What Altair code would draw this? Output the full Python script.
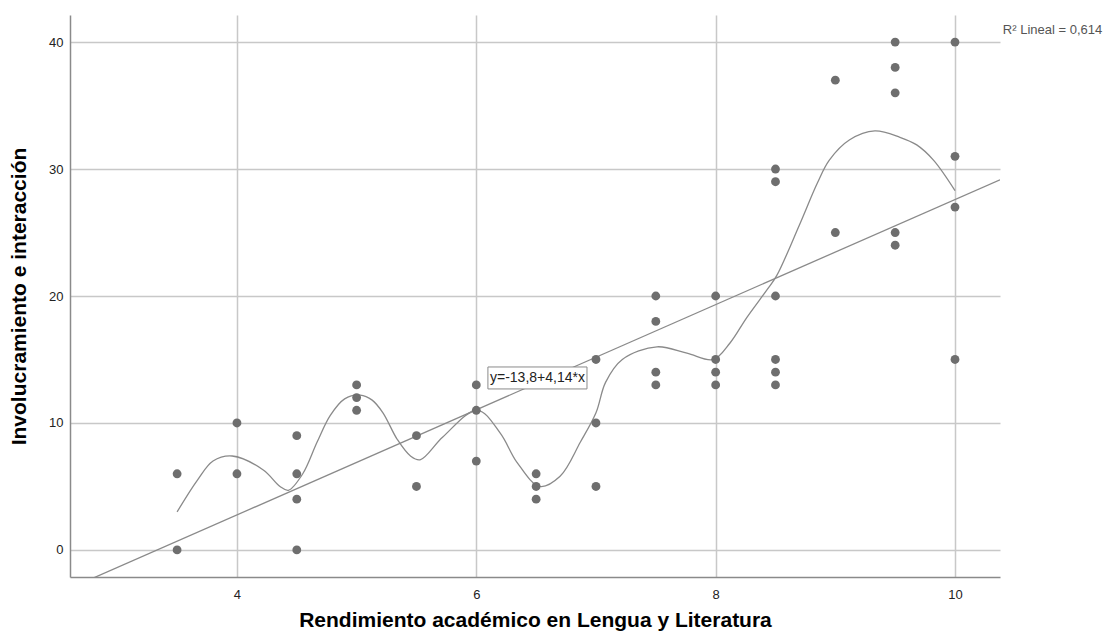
import altair as alt
import pandas as pd

# ---- data ----
pts_x = [3.5, 3.5,
         4, 4,
         4.5, 4.5, 4.5, 4.5,
         5, 5, 5,
         5.5, 5.5,
         6, 6, 6,
         6.5, 6.5, 6.5,
         7, 7, 7,
         7.5, 7.5, 7.5, 7.5,
         8, 8, 8, 8,
         8.5, 8.5, 8.5, 8.5, 8.5, 8.5,
         9, 9,
         9.5, 9.5, 9.5, 9.5, 9.5,
         10, 10, 10, 10]
pts_y = [6, 0,
         10, 6,
         9, 6, 4, 0,
         13, 12, 11,
         9, 5,
         13, 11, 7,
         6, 5, 4,
         15, 10, 5,
         20, 18, 14, 13,
         20, 15, 14, 13,
         30, 29, 20, 15, 14, 13,
         37, 25,
         40, 38, 36, 25, 24,
         40, 31, 27, 15]

# smooth (loess) curve
curve_x = [3.5, 3.67, 3.8, 3.96, 4.22, 4.36, 4.43, 4.55, 4.67, 4.78, 4.9, 5.03,
           5.13, 5.22, 5.34, 5.45, 5.53, 5.72, 6.01, 6.2, 6.34, 6.53, 6.70, 6.87,
           7.0, 7.08, 7.22, 7.51, 7.76, 7.98, 8.12, 8.26, 8.43, 8.51, 8.70,
           8.85, 8.95, 9.12, 9.33, 9.54, 9.68, 9.82, 10.0]
curve_y = [3.0, 5.5, 7.0, 7.4, 6.3, 5.0, 4.7, 6.0, 8.5, 10.6, 11.9, 12.2,
           11.8, 10.8, 8.7, 7.4, 7.1, 8.9, 11.0, 9.2, 6.9, 5.0, 5.8, 8.5,
           10.8, 13.2, 15.0, 16.0, 15.5, 15.0, 16.3, 18.3, 20.5, 21.6, 25.6,
           28.9, 30.7, 32.3, 33.0, 32.5, 31.9, 30.7, 28.3]

intercept = -13.8
slope = 4.14
r2_text = "R\u00b2 Lineal = 0,614"
eq_text = "y=-13,8+4,14*x"

x_dom = [2.605, 10.376]
y_dom = [-2.13, 42.13]
x_ticks = [4, 6, 8, 10]
y_ticks = [0, 10, 20, 30, 40]

FONT = "Liberation Sans"
GRAY_PT = "#6e6e6e"
GRAY_LN = "#8a8a8a"

pts = pd.DataFrame({"x": pts_x, "y": pts_y})
curve = pd.DataFrame({"x": curve_x, "y": curve_y})
reg = pd.DataFrame({"x": x_dom})

xs = alt.Scale(domain=x_dom, nice=False, zero=False)
ys = alt.Scale(domain=y_dom, nice=False, zero=False)

x_axis = alt.Axis(values=x_ticks, format="d", title="Rendimiento académico en Lengua y Literatura",
                  grid=True, ticks=False, labelPadding=11, titlePadding=8)
y_axis = alt.Axis(values=y_ticks, format="d", title="Involucramiento e interacción",
                  grid=True, ticks=False, labelPadding=7, titlePadding=19)

base_pts = alt.Chart(pts).mark_circle(size=78, color=GRAY_PT, opacity=1).encode(
    x=alt.X("x:Q", scale=xs, axis=x_axis),
    y=alt.Y("y:Q", scale=ys, axis=y_axis),
)

reg_line = alt.Chart(reg).transform_calculate(
    yy=f"{intercept} + {slope} * datum.x"
).mark_line(color=GRAY_LN, strokeWidth=1.3, clip=True).encode(
    x=alt.X("x:Q", scale=xs),
    y=alt.Y("yy:Q", scale=ys),
)

loess = alt.Chart(curve).mark_line(color=GRAY_LN, strokeWidth=1.3, interpolate="catmull-rom").encode(
    x=alt.X("x:Q", scale=xs),
    y=alt.Y("y:Q", scale=ys),
)

box_df = pd.DataFrame({"x1": [6.097], "x2": [6.925], "y1": [12.68], "y2": [14.41],
                       "tx": [6.511], "ty": [13.55], "label": [eq_text]})
box = alt.Chart(box_df).mark_rect(fill="white", stroke="#8a8a8a", strokeWidth=1).encode(
    x=alt.X("x1:Q", scale=xs), x2="x2:Q",
    y=alt.Y("y1:Q", scale=ys), y2="y2:Q",
)
box_text = alt.Chart(box_df).mark_text(font=FONT, fontSize=14, color="#222222",
                                       align="center", baseline="middle").encode(
    x=alt.X("tx:Q", scale=xs), y=alt.Y("ty:Q", scale=ys), text="label:N")

r2_df = pd.DataFrame({"x": [10.4], "y": [40.95], "label": [r2_text]})
r2 = alt.Chart(r2_df).mark_text(font=FONT, fontSize=13, color="#555555",
                                align="left", baseline="middle").encode(
    x=alt.X("x:Q", scale=xs), y=alt.Y("y:Q", scale=ys), text="label:N")

chart = alt.layer(reg_line, loess, base_pts, box, box_text, r2).properties(
    width=930, height=562,
    padding={"left": 62, "top": 7, "right": 107, "bottom": 57},
    autosize=alt.AutoSizeParams(type="none"),
    background="white",
).configure_view(stroke=None).configure_axis(
    labelFont=FONT, labelFontSize=13, labelColor="#222222",
    titleFont=FONT, titleFontSize=21, titleFontWeight="bold", titleColor="#000000",
    gridColor="#c8c8c8", gridWidth=1.5,
    domainColor="#8a8a8a", domainWidth=1.5,
)

chart.save("out.html", embed_options={"renderer": "svg", "actions": False})
